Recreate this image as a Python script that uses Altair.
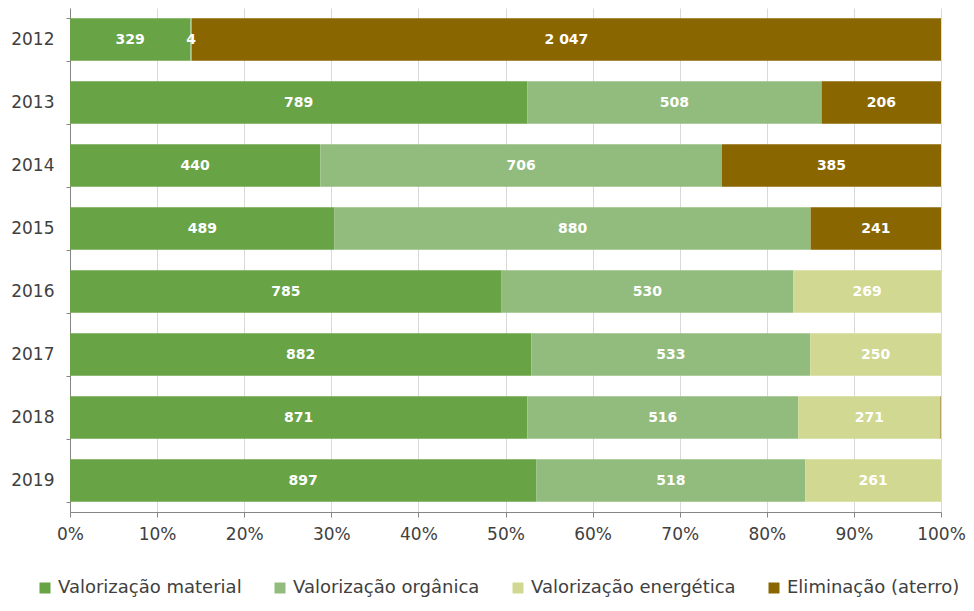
import altair as alt
import pandas as pd

years = ["2012", "2013", "2014", "2015", "2016", "2017", "2018", "2019"]
categories = ["Valorização material", "Valorização orgânica", "Valorização energética", "Eliminação (aterro)"]
colors = ["#68A345", "#92BC7D", "#D1D891", "#8A6600"]

material = [329, 789, 440, 489, 785, 882, 871, 897]
organica = [4, 508, 706, 880, 530, 533, 516, 518]
energetica = [0, 0, 0, 0, 269, 250, 271, 261]
eliminacao = [2047, 206, 385, 241, 0, 0, 1, 0]
series = [material, organica, energetica, eliminacao]

rows = []
for i, y in enumerate(years):
    for j, (cat, vals) in enumerate(zip(categories, series)):
        v = vals[i]
        rows.append({"year": y, "cat": cat, "order": j, "value": v,
                     "label": f"{v:,}".replace(",", " ")})
df = pd.DataFrame(rows)

FONT = "DejaVu Sans"

base = alt.Chart(df).transform_stack(
    stack="value", groupby=["year"], as_=["x0", "x1"], offset="normalize",
    sort=[alt.SortField("order", order="ascending")]
).transform_calculate(mid="(datum.x0 + datum.x1) / 2")

yenc = alt.Y("year:N", sort=years, title=None,
             scale=alt.Scale(paddingInner=0.325, paddingOuter=0.1625),
             axis=alt.Axis(tickBand="extent", tickSize=4, labelPadding=12,
                           labelFontSize=17, labelColor="#404040", labelFont=FONT,
                           domainColor="#868686", tickColor="#868686", grid=False))

bars = base.transform_filter("datum.value > 0").mark_bar().encode(
    x=alt.X("x0:Q", scale=alt.Scale(domain=[0, 1], nice=False), title=None,
            axis=alt.Axis(format="%", values=[i / 10 for i in range(11)],
                          tickSize=5, labelPadding=9, labelFontSize=17,
                          labelColor="#404040", labelFont=FONT,
                          domainColor="#868686", tickColor="#868686",
                          gridColor="#D9D9D9", grid=True, labelFlush=False)),
    x2="x1:Q",
    y=yenc,
    color=alt.Color("cat:N", sort=categories,
                    scale=alt.Scale(domain=categories, range=colors),
                    legend=alt.Legend(title=None, orient="none", legendX=-34, legendY=571,
                                      direction="horizontal", columns=4,
                                      symbolType="square", symbolSize=121,
                                      symbolStrokeWidth=0, symbolOpacity=1,
                                      labelFontSize=18, labelColor="#404040",
                                      labelFont=FONT, labelOffset=4, labelLimit=400,
                                      columnPadding=29)),
)

texts = base.transform_filter("datum.value >= 3").mark_text(
    color="white", fontWeight="bold", fontSize=14, font=FONT, baseline="middle", align="center"
).encode(
    x="mid:Q",
    y=alt.Y("year:N", sort=years),
    text="label:N",
)

chart = (bars + texts).properties(
    width=871, height=504,
    autosize=alt.AutoSizeParams(type="none"),
    padding={"left": 62, "top": 0, "right": 25, "bottom": 86},
).configure_view(stroke=None)

chart.save("out.html", embed_options={"renderer": "svg", "actions": False})
